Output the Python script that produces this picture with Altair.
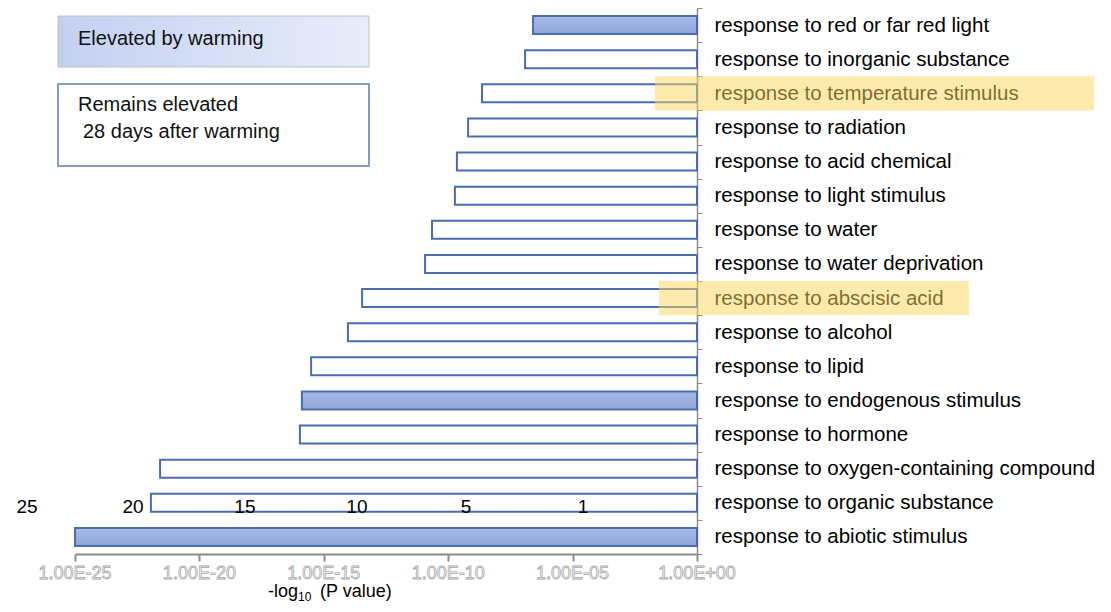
import altair as alt
import pandas as pd

# ---- data ----
categories = [
    "response to red or far red light",
    "response to inorganic substance",
    "response to temperature stimulus",
    "response to radiation",
    "response to acid chemical",
    "response to light stimulus",
    "response to water",
    "response to water deprivation",
    "response to abscisic acid",
    "response to alcohol",
    "response to lipid",
    "response to endogenous stimulus",
    "response to hormone",
    "response to oxygen-containing compound",
    "response to organic substance",
    "response to abiotic stimulus",
]
neg_log10_p = [6.59, 6.91, 8.64, 9.20, 9.65, 9.73, 10.65, 10.93,
               13.46, 14.03, 15.51, 15.88, 15.96, 21.58, 21.95, 25.0]
elevated = [True, False, False, False, False, False, False, False,
            False, False, False, True, False, False, False, True]

tick_values = [-25, -20, -15, -10, -5, 0]
tick_labels = ["1.00E-25", "1.00E-20", "1.00E-15", "1.00E-10", "1.00E-05", "1.00E+00"]

annot_text = ["25", "20", "15", "10", "5", "1"]
annot_pos = [-26.93, -22.67, -18.17, -13.67, -9.28, -4.58]

highlight_terms = ["response to temperature stimulus", "response to abscisic acid"]
highlight_start = [-1.69, -1.53]
highlight_end = [15.96, 10.93]

FONT = "Liberation Sans"
W, H = 622, 546

df = pd.DataFrame({"term": categories, "neglog": neg_log10_p, "elevated": elevated})
df["x"] = -df["neglog"]
df_ticks = pd.DataFrame({"x": tick_values, "label": tick_labels})
df_ann = pd.DataFrame({"x": annot_pos, "label": annot_text})
df_hl = pd.DataFrame({"term": highlight_terms, "x": highlight_start, "x2": highlight_end})
dummy = pd.DataFrame({"a": [0]})

xscale = alt.Scale(domain=[-25, 0], nice=False, zero=False)
yscale = alt.Scale(domain=categories, paddingInner=0, paddingOuter=0)

x_enc = alt.X("x:Q", scale=xscale,
              axis=alt.Axis(values=tick_values, labels=False, title=None, grid=False,
                            domainColor="#8c8c8c", domainWidth=2, tickColor="#8c8c8c",
                            tickWidth=2, tickSize=7))
y_enc = alt.Y("term:N", sort=categories, scale=yscale,
              axis=alt.Axis(orient="right", title=None, labelFontSize=20.5, labelColor="#000000",
                            labelFont=FONT, labelPadding=12, labelLimit=600, tickSize=5,
                            tickBand="extent", tickColor="#8c8c8c", domainColor="#8c8c8c",
                            domainWidth=1.5))

bar_grad = alt.Gradient(gradient="linear",
                        stops=[alt.GradientStop(color="#A9BAE6", offset=0),
                               alt.GradientStop(color="#8FA4DA", offset=1)],
                        x1=0, x2=0, y1=0, y2=1)
legend_grad = alt.Gradient(gradient="linear",
                           stops=[alt.GradientStop(color="#C3D0F1", offset=0),
                                  alt.GradientStop(color="#E8EDFA", offset=1)],
                           x1=0, x2=1, y1=0, y2=0)

base = alt.Chart(df)

bars_open = base.transform_filter("!datum.elevated").mark_bar(
    size=18, fill="white", stroke="#4A6CB3", strokeWidth=2
).encode(x=x_enc, x2=alt.datum(0), y=y_enc)

bars_fill = base.transform_filter("datum.elevated").mark_bar(
    size=18, fill=bar_grad, stroke="#4A6CB3", strokeWidth=2
).encode(x=alt.X("x:Q", scale=xscale), x2=alt.datum(0), y=alt.Y("term:N", sort=categories, scale=yscale))

highlight = alt.Chart(df_hl).mark_rect(fill="#FBD85E", opacity=0.5).encode(
    x=alt.X("x:Q", scale=xscale), x2="x2:Q",
    y=alt.Y("term:N", sort=categories, scale=yscale)
)

tick_text = alt.Chart(df_ticks).mark_text(
    font=FONT, fontSize=18, fill="white", stroke="#a8a8a8", strokeWidth=0.8, baseline="middle"
).encode(x=alt.X("x:Q", scale=xscale), y=alt.value(H + 20), text="label:N")

ann_text = alt.Chart(df_ann).mark_text(
    font=FONT, fontSize=19, color="#000000", baseline="middle"
).encode(x=alt.X("x:Q", scale=xscale), y=alt.value(499), text="label:N")

title1 = alt.Chart(dummy).mark_text(font=FONT, fontSize=18, color="#000", align="right",
                                    baseline="alphabetic").encode(
    x=alt.value(223), y=alt.value(589), text=alt.value("-log"))
title2 = alt.Chart(dummy).mark_text(font=FONT, fontSize=12, color="#000", align="left",
                                    baseline="alphabetic").encode(
    x=alt.value(223), y=alt.value(593), text=alt.value("10"))
title3 = alt.Chart(dummy).mark_text(font=FONT, fontSize=18, color="#000", align="left",
                                    baseline="alphabetic").encode(
    x=alt.value(245), y=alt.value(589), text=alt.value("(P value)"))

leg_box1 = alt.Chart(dummy).mark_rect(fill=legend_grad, stroke="#c0c0c0", strokeWidth=1).encode(
    x=alt.value(-17), x2=alt.value(294), y=alt.value(8), y2=alt.value(59))
leg_box2 = alt.Chart(dummy).mark_rect(fill="white", stroke="#8A9CC2", strokeWidth=2).encode(
    x=alt.value(-17), x2=alt.value(294), y=alt.value(76), y2=alt.value(158))
leg_t1 = alt.Chart(dummy).mark_text(font=FONT, fontSize=20, color="#111", align="left",
                                    baseline="middle").encode(
    x=alt.value(3), y=alt.value(31), text=alt.value("Elevated by warming"))
leg_t2 = alt.Chart(dummy).mark_text(font=FONT, fontSize=20, color="#111", align="left",
                                    baseline="middle").encode(
    x=alt.value(3), y=alt.value(97), text=alt.value("Remains elevated"))
leg_t3 = alt.Chart(dummy).mark_text(font=FONT, fontSize=20, color="#111", align="left",
                                    baseline="middle").encode(
    x=alt.value(8), y=alt.value(124), text=alt.value("28 days after warming"))

chart = alt.layer(
    bars_open, bars_fill, highlight, tick_text, ann_text,
    title1, title2, title3, leg_box1, leg_box2, leg_t1, leg_t2, leg_t3
).properties(
    width=W, height=H,
    autosize=alt.AutoSizeParams(type="none"),
    padding={"left": 67, "top": 0, "right": 405, "bottom": 50},
).configure_view(stroke=None).configure_axis(labelFont=FONT)

chart.save("out.html", embed_options={"renderer": "svg", "actions": False})
